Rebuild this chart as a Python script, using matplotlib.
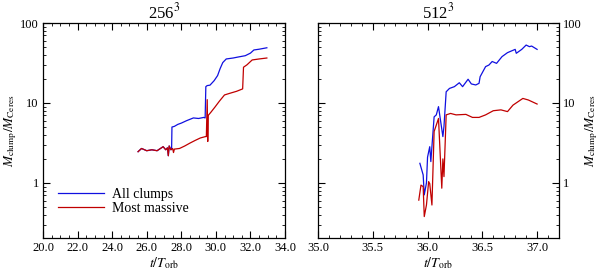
import matplotlib
matplotlib.use("Agg")
import matplotlib.pyplot as plt
from matplotlib.ticker import FixedLocator, MultipleLocator, FormatStrFormatter, LogLocator, NullFormatter

plt.rcParams['font.family'] = ['Liberation Serif', 'DejaVu Serif']
plt.rcParams['mathtext.fontset'] = 'stix'

# ---- 256^3 panel ----
t256_all = [25.5, 25.7, 26.0, 26.3, 26.6, 26.95, 27.1, 27.2, 27.25, 27.3, 27.4, 27.44,
            27.46, 27.6, 27.8, 28.0, 28.3, 28.7, 29.0, 29.3, 29.38, 29.42, 29.5, 29.66,
            29.9, 30.1, 30.25, 30.4, 30.6, 31.0, 31.3, 31.7, 32.0, 32.2, 32.5, 32.95]
m256_all = [2.46, 2.7, 2.53, 2.6, 2.53, 2.84, 2.6, 2.75, 2.19, 2.9, 2.6, 2.65,
            5.0, 5.1, 5.4, 5.6, 6.0, 6.5, 6.4, 6.6, 6.5, 16.0, 16.5, 16.7,
            19.0, 22.0, 27.0, 32.0, 35.5, 36.5, 37.6, 39.0, 42.0, 46.0, 47.0, 49.0]

t256_max = [25.5, 25.7, 26.0, 26.3, 26.6, 26.95, 27.1, 27.2, 27.25, 27.3, 27.4, 27.5,
            27.55, 27.6, 27.9, 28.2, 28.5, 28.8, 29.1, 29.4, 29.45, 29.5, 29.53, 29.56,
            29.7, 29.95, 30.2, 30.5, 30.8, 31.2, 31.55, 31.6, 31.8, 32.1, 32.5, 32.95]
m256_max = [2.46, 2.7, 2.53, 2.6, 2.53, 2.84, 2.6, 2.75, 2.19, 2.9, 2.6, 2.7,
            2.4, 2.65, 2.7, 2.9, 3.15, 3.4, 3.65, 3.8, 3.8, 11.0, 3.3, 7.0,
            7.6, 8.9, 10.5, 12.6, 13.2, 14.0, 15.0, 28.0, 30.0, 34.5, 35.5, 36.5]

# ---- 512^3 panel ----
t512_all = [35.93, 35.96, 35.97, 35.99, 36.0, 36.02, 36.03, 36.06, 36.08, 36.1, 36.14,
            36.15, 36.17, 36.2, 36.245, 36.29, 36.32, 36.37, 36.4, 36.44, 36.47, 36.48,
            36.53, 36.56, 36.59, 36.63, 36.68, 36.73, 36.8, 36.81, 36.86, 36.9, 36.93,
            36.95, 37.0]
m512_all = [1.76, 1.26, 0.71, 1.0, 2.1, 2.84, 1.85, 6.7, 7.1, 9.0, 3.8,
            5.1, 13.8, 15.2, 16.0, 17.9, 16.0, 19.8, 17.3, 16.8, 17.6, 21.3,
            28.5, 29.8, 33.0, 31.3, 38.0, 42.6, 46.8, 41.8, 46.8, 53.0, 50.6,
            51.5, 46.8]

t512_max = [35.92, 35.94, 35.96, 35.97, 35.99, 36.01, 36.02, 36.04, 36.06, 36.08, 36.1,
            36.13, 36.14, 36.15, 36.17, 36.21, 36.26, 36.35, 36.41, 36.47, 36.53, 36.6,
            36.67, 36.73, 36.78, 36.87, 36.92, 37.0]
m512_max = [0.61, 0.94, 0.9, 0.38, 0.53, 1.04, 0.98, 0.53, 4.4, 5.3, 6.4,
            0.86, 2.0, 1.2, 7.1, 7.4, 7.1, 7.2, 6.6, 6.6, 7.1, 8.0,
            8.2, 7.8, 9.4, 11.4, 10.9, 9.7]

titles = ["256$^3$", "512$^3$"]
legend_labels = ["All clumps", "Most massive"]
ylabel = r"$M_{\rm clump}/M_{\rm Ceres}$"
xlabel = r"$t/T_{\rm orb}$"

c_all = '#1010e0'
c_max = '#c00000'

fig = plt.figure(figsize=(6.0, 2.73), dpi=100)
ax1 = fig.add_axes([43/600, 35/273, 242/600, 215/273])
ax2 = fig.add_axes([318/600, 35/273, 241/600, 215/273])

ax1.plot(t256_all, m256_all, color=c_all, lw=0.9, label=legend_labels[0])
ax1.plot(t256_max, m256_max, color=c_max, lw=0.9, label=legend_labels[1])
ax2.plot(t512_all, m512_all, color=c_all, lw=0.9)
ax2.plot(t512_max, m512_max, color=c_max, lw=0.9)

ax1.set_xlim(20, 34)
ax2.set_xlim(35, 37.2)
for ax, title in zip([ax1, ax2], titles):
    ax.set_yscale('log')
    ax.set_ylim(0.205, 100)
    ax.set_title(title, fontsize=12, pad=3)
    ax.set_xlabel(xlabel, fontsize=10, labelpad=1)
    ax.yaxis.set_major_locator(FixedLocator([1, 10, 100]))
    ax.yaxis.set_major_formatter(FormatStrFormatter('%g'))
    ax.yaxis.set_minor_locator(LogLocator(base=10, subs=range(2, 10)))
    ax.yaxis.set_minor_formatter(NullFormatter())
    ax.xaxis.set_major_formatter(FormatStrFormatter('%.1f'))
    ax.tick_params(which='both', direction='in', top=True, right=True, labelsize=9)
    ax.tick_params(which='major', length=5, width=0.8, pad=3)
    ax.tick_params(which='minor', length=2.5, width=0.6)
    for s in ax.spines.values():
        s.set_linewidth(0.9)

ax1.xaxis.set_major_locator(MultipleLocator(2))
ax1.xaxis.set_minor_locator(MultipleLocator(0.5))
ax2.xaxis.set_major_locator(MultipleLocator(0.5))
ax2.xaxis.set_minor_locator(MultipleLocator(0.1))

ax1.set_ylabel(ylabel, fontsize=9.5, labelpad=1)
ax2.yaxis.set_label_position('right')
ax2.tick_params(axis='y', which='both', labelleft=False, labelright=True)
ax2.set_ylabel(ylabel, fontsize=9.5, labelpad=1)

ax1.legend(loc='lower left', bbox_to_anchor=(0.04, 0.08), frameon=False, fontsize=10,
           handlelength=3.3, handletextpad=0.6, labelspacing=0.1, borderaxespad=0)

fig.savefig('out.png', dpi=100)
